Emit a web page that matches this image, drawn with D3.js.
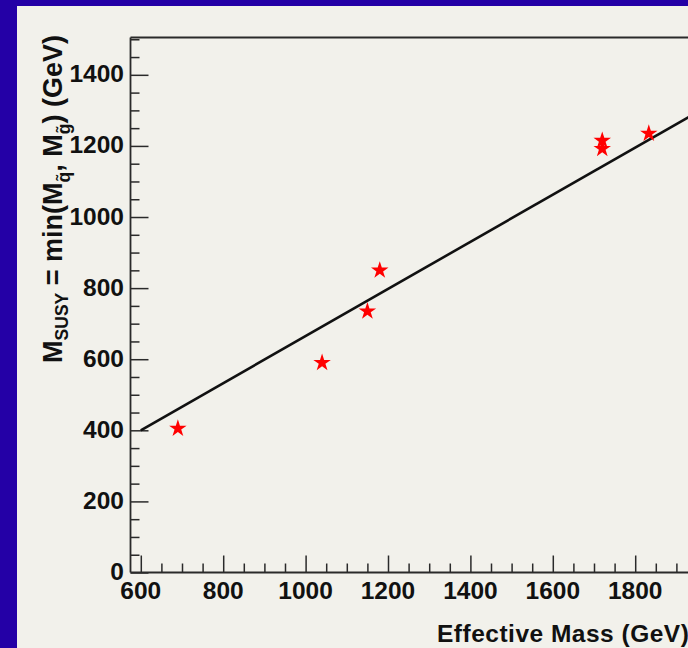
<!DOCTYPE html>
<html>
<head>
<meta charset="utf-8">
<script src="https://cdn.jsdelivr.net/npm/d3@7"></script>
<style>
  html, body { margin: 0; padding: 0; background: #2400a6; }
  svg { display: block; }
</style>
</head>
<body>
<svg id="chart" width="688" height="648"></svg>
<script>
// ---- data ----
const effMass = [690, 1040, 1150, 1180, 1720, 1720, 1833];
const mSusy   = [405, 590, 735, 850, 1215, 1192, 1235];
const fitX = [600, 2100];
const fitY = [400, 1394];
const xTicksMajor = [600, 800, 1000, 1200, 1400, 1600, 1800, 2000];
const xTickLabels = [600, 800, 1000, 1200, 1400, 1600, 1800];
const yTicksMajor = [0, 200, 400, 600, 800, 1000, 1200, 1400];
const xLabel = "Effective Mass (GeV)";

(function () {
const svg = d3.select("#chart");
const W = 688, H = 648;

// panel
svg.append("rect").attr("x", 0).attr("y", 0).attr("width", W).attr("height", H).attr("fill", "#2400a6");
svg.append("rect").attr("x", 17).attr("y", 6).attr("width", W - 17).attr("height", H - 6).attr("fill", "#f2f1eb");

const pLeft = 130.5, pTop = 37.5, pBottom = 572.5;
const x = d3.scaleLinear().domain([575, 2100]).range([pLeft, pLeft + (2100 - 575) * 0.412]);
const y = d3.scaleLinear().domain([0, 1505]).range([pBottom, pTop]);
const pRight = x(2100);

const font = "'Liberation Sans', Arial, Helvetica, sans-serif";

// clip
svg.append("clipPath").attr("id", "plotclip")
  .append("rect").attr("x", pLeft).attr("y", pTop).attr("width", pRight - pLeft).attr("height", pBottom - pTop);

// frame (top line)
svg.append("line").attr("x1", pLeft).attr("x2", pRight).attr("y1", pTop).attr("y2", pTop)
  .attr("stroke", "#2a2a2a").attr("stroke-width", 1.8);

// y axis
const yMinor = d3.range(0, 1505, 50);
const yAxis = d3.axisRight(y).tickValues(yMinor).tickSize(9).tickFormat("");
const gy = svg.append("g").attr("transform", `translate(${pLeft},0)`).call(yAxis);
gy.selectAll(".tick line").attr("x2", d => yTicksMajor.includes(d) ? 18 : 9);
gy.select(".domain").remove();
gy.selectAll("line").attr("stroke", "#2a2a2a").attr("stroke-width", 1.5);
svg.append("line").attr("x1", pLeft).attr("x2", pLeft).attr("y1", pTop).attr("y2", pBottom)
  .attr("stroke", "#2a2a2a").attr("stroke-width", 1.8);
svg.append("g").selectAll("text").data(yTicksMajor).join("text")
  .attr("x", pLeft - 6.5).attr("y", d => y(d) + 7.5)
  .attr("text-anchor", "end")
  .attr("font-family", font).attr("font-weight", "bold").attr("font-size", 24.5)
  .attr("fill", "#111").text(d => d);

// x axis
const xMinor = d3.range(600, 2101, 50);
const xAxis = d3.axisTop(x).tickValues(xMinor).tickSize(9).tickFormat("");
const gx = svg.append("g").attr("transform", `translate(0,${pBottom})`).call(xAxis);
gx.selectAll(".tick line").attr("y2", d => xTicksMajor.includes(d) ? -17 : -9);
gx.select(".domain").remove();
gx.selectAll("line").attr("stroke", "#2a2a2a").attr("stroke-width", 1.5);
svg.append("line").attr("x1", pLeft).attr("x2", pRight).attr("y1", pBottom).attr("y2", pBottom)
  .attr("stroke", "#2a2a2a").attr("stroke-width", 1.8);
svg.append("g").selectAll("text").data(xTickLabels).join("text")
  .attr("x", d => x(d)).attr("y", pBottom + 26)
  .attr("text-anchor", "middle")
  .attr("font-family", font).attr("font-weight", "bold").attr("font-size", 24.5)
  .attr("fill", "#111").text(d => d);

// axis titles
svg.append("text").attr("x", 437).attr("y", 642)
  .attr("font-family", font).attr("font-weight", "bold").attr("font-size", 24.5)
  .attr("letter-spacing", 0.5)
  .attr("fill", "#111").text(xLabel);

const yt = svg.append("text")
  .attr("transform", "translate(62,199) rotate(-90)")
  .attr("text-anchor", "middle")
  .attr("font-family", font).attr("font-weight", "bold").attr("font-size", 27)
  .attr("fill", "#111");
yt.append("tspan").text("M");
yt.append("tspan").attr("font-size", 17.5).attr("dy", 6).text("SUSY");
yt.append("tspan").attr("dy", -6).text(" = min(M");
yt.append("tspan").attr("font-size", 17.5).attr("dy", 8).text("q\u0303");
yt.append("tspan").attr("dy", -8).text(", M");
yt.append("tspan").attr("font-size", 17.5).attr("dy", 8).text("g\u0303");
yt.append("tspan").attr("dy", -8).text(") (GeV)");

// fit line
const plot = svg.append("g").attr("clip-path", "url(#plotclip)");
plot.append("path")
  .datum(fitX.map((v, i) => [v, fitY[i]]))
  .attr("d", d3.line().x(d => x(d[0])).y(d => y(d[1])))
  .attr("fill", "none").attr("stroke", "#111").attr("stroke-width", 2.6);

// stars
plot.selectAll("path.star").data(effMass.map((v, i) => [v, mSusy[i]])).join("path")
  .attr("class", "star")
  .attr("d", d3.symbol().type(d3.symbolStar).size(95))
  .attr("transform", d => `translate(${x(d[0])},${y(d[1])})`)
  .attr("fill", "#ff0000");
})();
</script>
</body>
</html>
